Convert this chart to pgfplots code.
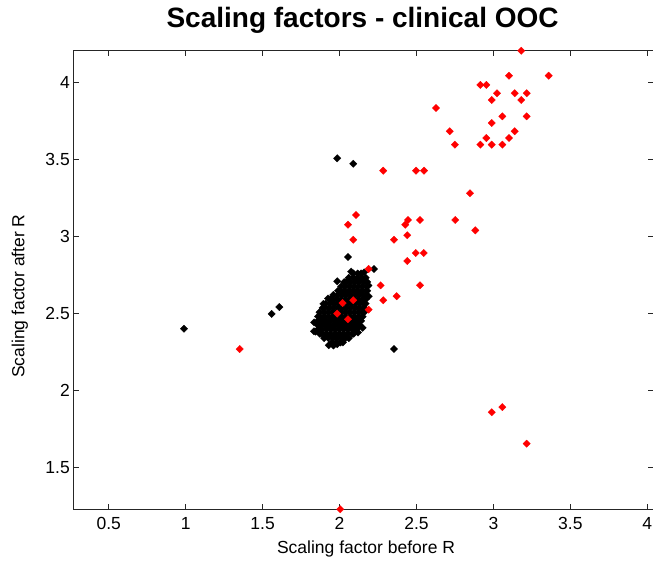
\documentclass[border=0pt]{standalone}
\usepackage{fontspec}
\setmainfont{Liberation Sans}
\usepackage{pgfplots}
\pgfplotsset{compat=1.18}
\pgfplotstableread{
x y
1.950 2.310
1.978 2.310
2.006 2.310
2.022 2.310
1.900 2.338
1.928 2.338
1.956 2.338
1.984 2.338
2.012 2.338
2.040 2.338
2.060 2.338
1.872 2.366
1.886 2.366
1.914 2.366
1.942 2.366
1.970 2.366
1.998 2.366
2.026 2.366
2.054 2.366
2.082 2.366
2.092 2.366
1.860 2.394
1.888 2.394
1.916 2.394
1.944 2.394
1.972 2.394
2.000 2.394
2.028 2.394
2.056 2.394
2.084 2.394
2.110 2.394
1.860 2.422
1.874 2.422
1.902 2.422
1.930 2.422
1.958 2.422
1.986 2.422
2.014 2.422
2.042 2.422
2.070 2.422
2.098 2.422
2.126 2.422
2.130 2.422
1.860 2.450
1.888 2.450
1.916 2.450
1.944 2.450
1.972 2.450
2.000 2.450
2.028 2.450
2.056 2.450
2.084 2.450
2.112 2.450
2.140 2.450
1.860 2.478
1.874 2.478
1.902 2.478
1.930 2.478
1.958 2.478
1.986 2.478
2.014 2.478
2.042 2.478
2.070 2.478
2.098 2.478
2.126 2.478
2.150 2.478
1.870 2.506
1.898 2.506
1.926 2.506
1.954 2.506
1.982 2.506
2.010 2.506
2.038 2.506
2.066 2.506
2.094 2.506
2.122 2.506
2.150 2.506
2.160 2.506
1.890 2.534
1.904 2.534
1.932 2.534
1.960 2.534
1.988 2.534
2.016 2.534
2.044 2.534
2.072 2.534
2.100 2.534
2.128 2.534
2.156 2.534
2.162 2.534
1.910 2.562
1.938 2.562
1.966 2.562
1.994 2.562
2.022 2.562
2.050 2.562
2.078 2.562
2.106 2.562
2.134 2.562
2.162 2.562
2.170 2.562
1.940 2.590
1.954 2.590
1.982 2.590
2.010 2.590
2.038 2.590
2.066 2.590
2.094 2.590
2.122 2.590
2.150 2.590
2.170 2.590
1.960 2.618
1.988 2.618
2.016 2.618
2.044 2.618
2.072 2.618
2.100 2.618
2.128 2.618
2.156 2.618
2.172 2.618
1.990 2.646
2.004 2.646
2.032 2.646
2.060 2.646
2.088 2.646
2.116 2.646
2.144 2.646
2.172 2.646
2.180 2.646
2.010 2.674
2.038 2.674
2.066 2.674
2.094 2.674
2.122 2.674
2.150 2.674
2.178 2.674
2.030 2.702
2.044 2.702
2.072 2.702
2.100 2.702
2.128 2.702
2.156 2.702
2.180 2.702
2.060 2.730
2.088 2.730
2.116 2.730
2.144 2.730
2.170 2.730
2.090 2.758
2.118 2.758
2.140 2.758
2.075 2.770
2.160 2.765
1.835 2.440
1.930 2.292
1.985 2.298
2.150 2.405
1.845 2.380
1.895 2.560
1.925 2.595
2.190 2.610
2.188 2.680
2.120 2.375
1.960 2.290
1.985 3.506
2.089 3.471
2.055 2.865
2.224 2.787
1.985 2.707
1.609 2.540
1.559 2.495
0.989 2.399
1.834 2.382
2.354 2.267
}\blackdata
\pgfplotstableread{
x y
3.181 4.205
3.101 4.043
3.359 4.043
2.915 3.983
2.954 3.983
3.023 3.929
3.138 3.929
3.216 3.929
2.989 3.885
3.181 3.885
2.627 3.833
3.058 3.779
3.216 3.779
2.989 3.736
2.716 3.682
3.138 3.682
2.954 3.638
3.101 3.638
2.750 3.595
2.915 3.595
2.989 3.595
3.058 3.595
2.284 3.426
2.497 3.426
2.549 3.426
2.848 3.279
2.107 3.138
2.055 3.075
2.445 3.105
2.427 3.075
2.523 3.105
2.752 3.105
2.882 3.038
2.089 2.977
2.354 2.977
2.440 3.006
2.495 2.891
2.547 2.891
2.440 2.839
2.189 2.787
2.267 2.681
2.523 2.681
2.284 2.584
2.371 2.610
2.020 2.566
2.089 2.584
1.985 2.497
2.055 2.460
2.189 2.523
1.351 2.267
2.989 1.856
3.058 1.890
3.216 1.652
2.005 1.226
}\reddata
\begin{document}
\begin{tikzpicture}
\begin{axis}[
  at={(0,0)}, anchor=south west,
  scale only axis, width=579.7pt, height=459.4pt,
  xmin=0.27, xmax=4.037, ymin=1.223, ymax=4.208,
  xtick={0.5,1,1.5,2,2.5,3,3.5,4},
  ytick={1.5,2,2.5,3,3.5,4},
  tick align=inside, major tick length=5.5pt,
  axis line style={line width=0.9pt, black!85},
  every tick/.style={black!85, line width=0.9pt},
  /pgf/number format/assume math mode=true,
  ticklabel style={font=\fontsize{17.5}{20}\selectfont},
  xticklabel style={yshift=-4pt},
  title={Scaling factors - clinical OOC},
  title style={font=\bfseries\fontsize{28}{30}\selectfont, at={(axis description cs:0.499,1.0355)}, anchor=base},
  xlabel={Scaling factor before R},
  xlabel style={font=\fontsize{17.5}{20}\selectfont, at={(axis description cs:0.505,-0.0964)}, anchor=base},
  ylabel={Scaling factor after R},
  ylabel style={font=\fontsize{17.5}{20}\selectfont, at={(axis description cs:-0.092,0.465)}, anchor=center},
]
\addplot[only marks, mark=square*, mark size=2.6pt, mark options={rotate=45, black, fill=black, line width=0.3pt}] table[x=x,y=y] {\blackdata};
\addplot[only marks, mark=square*, mark size=2.6pt, mark options={rotate=45, red, fill=red, line width=0.3pt}] table[x=x,y=y] {\reddata};
\end{axis}
\pgfresetboundingbox
\path[use as bounding box] (-73.3pt,-50.3pt) rectangle (579.7pt,509.7pt);
\end{tikzpicture}
\end{document}
